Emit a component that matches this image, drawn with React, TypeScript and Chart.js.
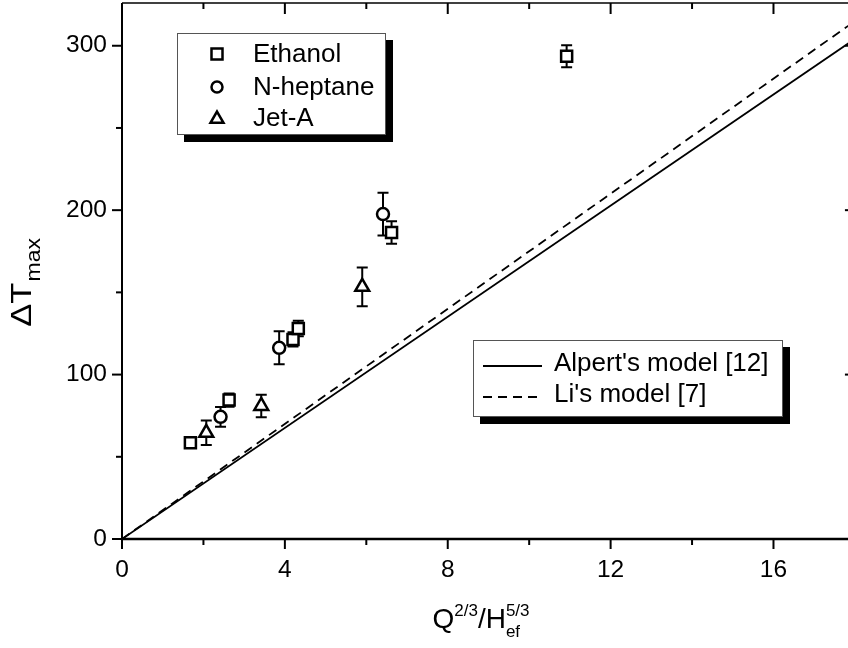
import React, { useEffect, useRef } from 'react';
import { Chart, registerables } from 'chart.js';
Chart.register(...registerables);

// ---- data ----
const ethanolX = [1.68, 2.63, 4.2, 4.33, 6.62, 10.92];
const ethanolY = [58.5, 84.5, 121.4, 128, 186.4, 293.6];
const ethanolErr = [2, 4, 4.3, 4.7, 6.8, 6.7];

const heptaneX = [2.42, 3.86, 6.41];
const heptaneY = [74.3, 116.3, 197.6];
const heptaneErr = [6, 10, 13];

const jetX = [2.07, 3.42, 5.9];
const jetY = [64.6, 80.9, 153.4];
const jetErr = [7.5, 6.8, 11.8];

const modelX = [0, 18];
const alpertY = [0, 304.2];
const liY = [0, 315];

const xMajorTicks = [0, 4, 8, 12, 16];
const xMinorTicks = [2, 6, 10, 14];
const yMajorTicks = [0, 100, 200, 300];
const yMinorTicks = [50, 150, 250];

// the visible window (the frame's right side lies just past the picture edge)
const X_MIN = 0;
const X_MAX = 17.83;
const X_FRAME_MAX = 18;
const Y_MIN = 0;
const Y_MAX = 326;

const FONT = '"Liberation Sans", Arial, Helvetica, sans-serif';

const pts = (xs: number[], ys: number[]) => xs.map((x, i) => ({ x, y: ys[i] }));

const errorBarPlugin = {
  id: 'errorBars',
  beforeDatasetsDraw(chart: any) {
    const { ctx, scales } = chart;
    const xs = scales.x;
    const ys = scales.y;
    ctx.save();
    ctx.strokeStyle = '#000';
    ctx.lineWidth = 2;
    chart.data.datasets.forEach((ds: any) => {
      if (!ds.errors) return;
      ds.data.forEach((p: any, i: number) => {
        const e = ds.errors[i];
        const px = xs.getPixelForValue(p.x);
        const y1 = ys.getPixelForValue(p.y + e);
        const y2 = ys.getPixelForValue(p.y - e);
        ctx.beginPath();
        ctx.moveTo(px, y1);
        ctx.lineTo(px, y2);
        ctx.moveTo(px - 5.5, y1);
        ctx.lineTo(px + 5.5, y1);
        ctx.moveTo(px - 5.5, y2);
        ctx.lineTo(px + 5.5, y2);
        ctx.stroke();
      });
    });
    ctx.restore();
  },
};

function seg(ctx: any, x1: number, y1: number, x2: number, y2: number, w: number) {
  ctx.lineWidth = w;
  ctx.beginPath();
  ctx.moveTo(x1, y1);
  ctx.lineTo(x2, y2);
  ctx.stroke();
}

const framePlugin = {
  id: 'frame',
  afterDraw(chart: any) {
    const { ctx, chartArea: ca, scales } = chart;
    const xs = scales.x;
    const ys = scales.y;
    const rightEdge = xs.getPixelForValue(X_FRAME_MAX);
    ctx.save();
    ctx.strokeStyle = '#000';
    seg(ctx, ca.left, ca.top, ca.left, ca.bottom + 1, 2);
    seg(ctx, ca.left, ca.bottom, rightEdge, ca.bottom, 2.5);
    seg(ctx, ca.left, ca.top, rightEdge, ca.top, 1.5);
    seg(ctx, rightEdge, ca.top, rightEdge, ca.bottom, 1.5);
    xMajorTicks.forEach((v) => {
      const p = xs.getPixelForValue(v);
      seg(ctx, p, ca.bottom, p, ca.bottom + 10, 2);
      seg(ctx, p, ca.top, p, ca.top + 11, 2);
    });
    xMinorTicks.forEach((v) => {
      const p = xs.getPixelForValue(v);
      seg(ctx, p, ca.bottom, p, ca.bottom + 6, 2);
      seg(ctx, p, ca.top, p, ca.top + 6, 2);
    });
    yMajorTicks.forEach((v) => {
      const p = ys.getPixelForValue(v);
      seg(ctx, ca.left - 10, p, ca.left, p, 2);
      if (v > 0) seg(ctx, rightEdge - 10, p, rightEdge, p, 2);
    });
    yMinorTicks.forEach((v) => {
      const p = ys.getPixelForValue(v);
      seg(ctx, ca.left - 6, p, ca.left, p, 2);
      seg(ctx, rightEdge - 6, p, rightEdge, p, 2);
    });
    ctx.restore();
  },
};

function drawMarker(ctx: any, style: string, x: number, y: number) {
  ctx.save();
  ctx.strokeStyle = '#000';
  ctx.fillStyle = '#fff';
  ctx.lineWidth = 2.5;
  ctx.beginPath();
  if (style === 'rect') {
    ctx.rect(x - 5.5, y - 5.5, 11, 11);
  } else if (style === 'circle') {
    ctx.arc(x, y, 5.5, 0, Math.PI * 2);
  } else {
    const r = 7.5;
    for (let k = 0; k < 3; k++) {
      const a = -Math.PI / 2 + (k * 2 * Math.PI) / 3;
      const px = x + Math.cos(a) * r;
      const py = y + Math.sin(a) * r + 1;
      if (k === 0) ctx.moveTo(px, py);
      else ctx.lineTo(px, py);
    }
    ctx.closePath();
  }
  ctx.fill();
  ctx.stroke();
  ctx.restore();
}

function shadowBox(ctx: any, x: number, y: number, w: number, h: number) {
  ctx.fillStyle = '#000';
  ctx.fillRect(x + 7, y + 7, w, h);
  ctx.fillStyle = '#fff';
  ctx.fillRect(x, y, w, h);
  ctx.strokeStyle = '#555';
  ctx.lineWidth = 1;
  ctx.strokeRect(x + 0.5, y + 0.5, w - 1, h - 1);
}

const legendPlugin = {
  id: 'customLegends',
  afterDraw(chart: any) {
    const { ctx } = chart;
    const ds = chart.data.datasets;
    ctx.save();
    shadowBox(ctx, 177, 33, 209, 102);
    const markerSets = ds.filter((d: any) => !d.showLine);
    const rows1 = [54, 87, 118];
    ctx.textBaseline = 'middle';
    ctx.textAlign = 'left';
    markerSets.forEach((d: any, i: number) => {
      drawMarker(ctx, d.pointStyle, 217, rows1[i]);
      ctx.fillStyle = '#000';
      ctx.font = `26px ${FONT}`;
      ctx.fillText(d.label, 253, rows1[i] + 1);
    });
    shadowBox(ctx, 473, 340, 310, 77);
    const lineSets = ds.filter((d: any) => d.showLine);
    const rows2 = [366, 397];
    lineSets.forEach((d: any, i: number) => {
      ctx.strokeStyle = '#000';
      ctx.setLineDash(d.borderDash || []);
      seg(ctx, 483, rows2[i], 542, rows2[i], 1.8);
      ctx.setLineDash([]);
      ctx.fillStyle = '#000';
      ctx.font = `26px ${FONT}`;
      ctx.fillText(d.label, 554, rows2[i] - 2);
    });
    ctx.restore();
  },
};

const titlePlugin = {
  id: 'axisTitles',
  afterDraw(chart: any) {
    const { ctx } = chart;
    ctx.save();
    ctx.fillStyle = '#000';
    ctx.textBaseline = 'alphabetic';
    ctx.textAlign = 'left';
    const big = `28px ${FONT}`;
    const small = `17px ${FONT}`;
    // x title: Q^{2/3}/H_{ef}^{5/3}
    ctx.font = big;
    const wQ = ctx.measureText('Q').width;
    const wH = ctx.measureText('/H').width;
    ctx.font = small;
    const w23 = ctx.measureText('2/3').width;
    const wef = ctx.measureText('ef').width;
    const w53 = ctx.measureText('5/3').width;
    const total = wQ + w23 + wH + Math.max(wef, w53);
    let x = 481 - total / 2;
    const base = 628;
    ctx.font = big;
    ctx.fillText('Q', x, base);
    x += wQ;
    ctx.font = small;
    ctx.fillText('2/3', x, base - 12);
    x += w23;
    ctx.font = big;
    ctx.fillText('/H', x, base);
    x += wH;
    ctx.font = small;
    ctx.fillText('5/3', x, base - 12);
    ctx.fillText('ef', x, base + 9);

    // y title: ΔT_max (rotated)
    const bigY = `30px ${FONT}`;
    const smallY = `20px ${FONT}`;
    const stretch = 1.15;
    ctx.font = bigY;
    const wDT = ctx.measureText('ΔT').width;
    ctx.font = smallY;
    const wmax = ctx.measureText('max').width;
    const tot2 = wDT + wmax;
    ctx.translate(31, 283);
    ctx.rotate(-Math.PI / 2);
    ctx.scale(stretch, 1);
    ctx.font = bigY;
    ctx.fillText('ΔT', -tot2 / 2, 0);
    ctx.font = smallY;
    ctx.fillText('max', -tot2 / 2 + wDT + 1, 9);
    ctx.restore();
  },
};

export default function App() {
  const ref = useRef<HTMLCanvasElement>(null);
  useEffect(() => {
    document.body.style.margin = '0';
    const canvas = ref.current!;
    const markerBase = {
      borderWidth: 2.5,
      borderColor: '#000',
      backgroundColor: '#fff',
      showLine: false,
      order: 1,
    };
    const chart = new Chart(canvas, {
      type: 'scatter',
      data: {
        datasets: [
          { ...markerBase, label: 'Ethanol', data: pts(ethanolX, ethanolY), errors: ethanolErr, pointStyle: 'rect', pointRadius: 7.8 } as any,
          { ...markerBase, label: 'N-heptane', data: pts(heptaneX, heptaneY), errors: heptaneErr, pointStyle: 'circle', pointRadius: 6 } as any,
          { ...markerBase, label: 'Jet-A', data: pts(jetX, jetY), errors: jetErr, pointStyle: 'triangle', pointRadius: 8 } as any,
          {
            label: "Alpert's model [12]",
            data: pts(modelX, alpertY),
            showLine: true,
            borderColor: '#000',
            borderWidth: 1.8,
            pointRadius: 0,
            fill: false,
            order: 3,
          } as any,
          {
            label: "Li's model [7]",
            data: pts(modelX, liY),
            showLine: true,
            borderColor: '#000',
            borderWidth: 1.8,
            borderDash: [9, 6],
            pointRadius: 0,
            fill: false,
            order: 3,
          } as any,
        ],
      },
      options: {
        responsive: false,
        animation: false,
        devicePixelRatio: 1,
        layout: { autoPadding: false, padding: { top: 3, right: 0, left: 0, bottom: 0 } },
        plugins: { legend: { display: false }, tooltip: { enabled: false } },
        scales: {
          x: {
            type: 'linear',
            min: X_MIN,
            max: X_MAX,
            grid: { display: false, drawTicks: false, tickLength: 0 },
            border: { display: false },
            ticks: {
              stepSize: 2,
              includeBounds: false,
              autoSkip: false,
              maxRotation: 0,
              padding: 17,
              color: '#000',
              font: { family: FONT, size: 24.5 },
              callback: (v: any) => (Number(v) % 4 === 0 ? String(v) : ''),
            },
            afterFit: (s: any) => {
              s.height = 109;
              s.paddingLeft = 0;
              s.paddingRight = 0;
            },
          },
          y: {
            type: 'linear',
            min: Y_MIN,
            max: Y_MAX,
            grid: { display: false, drawTicks: false, tickLength: 0 },
            border: { display: false },
            ticks: {
              stepSize: 50,
              includeBounds: false,
              autoSkip: false,
              padding: 15,
              color: '#000',
              font: { family: FONT, size: 24.5 },
              callback: (v: any) => (Number(v) % 100 === 0 ? String(v) : ''),
            },
            afterFit: (s: any) => {
              s.width = 122;
              s.paddingTop = 0;
              s.paddingBottom = 0;
            },
          },
        },
      },
      plugins: [errorBarPlugin, framePlugin, legendPlugin, titlePlugin],
    } as any);
    return () => chart.destroy();
  }, []);
  return (
    <canvas
      ref={ref}
      width={848}
      height={648}
      style={{ display: 'block', width: 848, height: 648 }}
    />
  );
}
